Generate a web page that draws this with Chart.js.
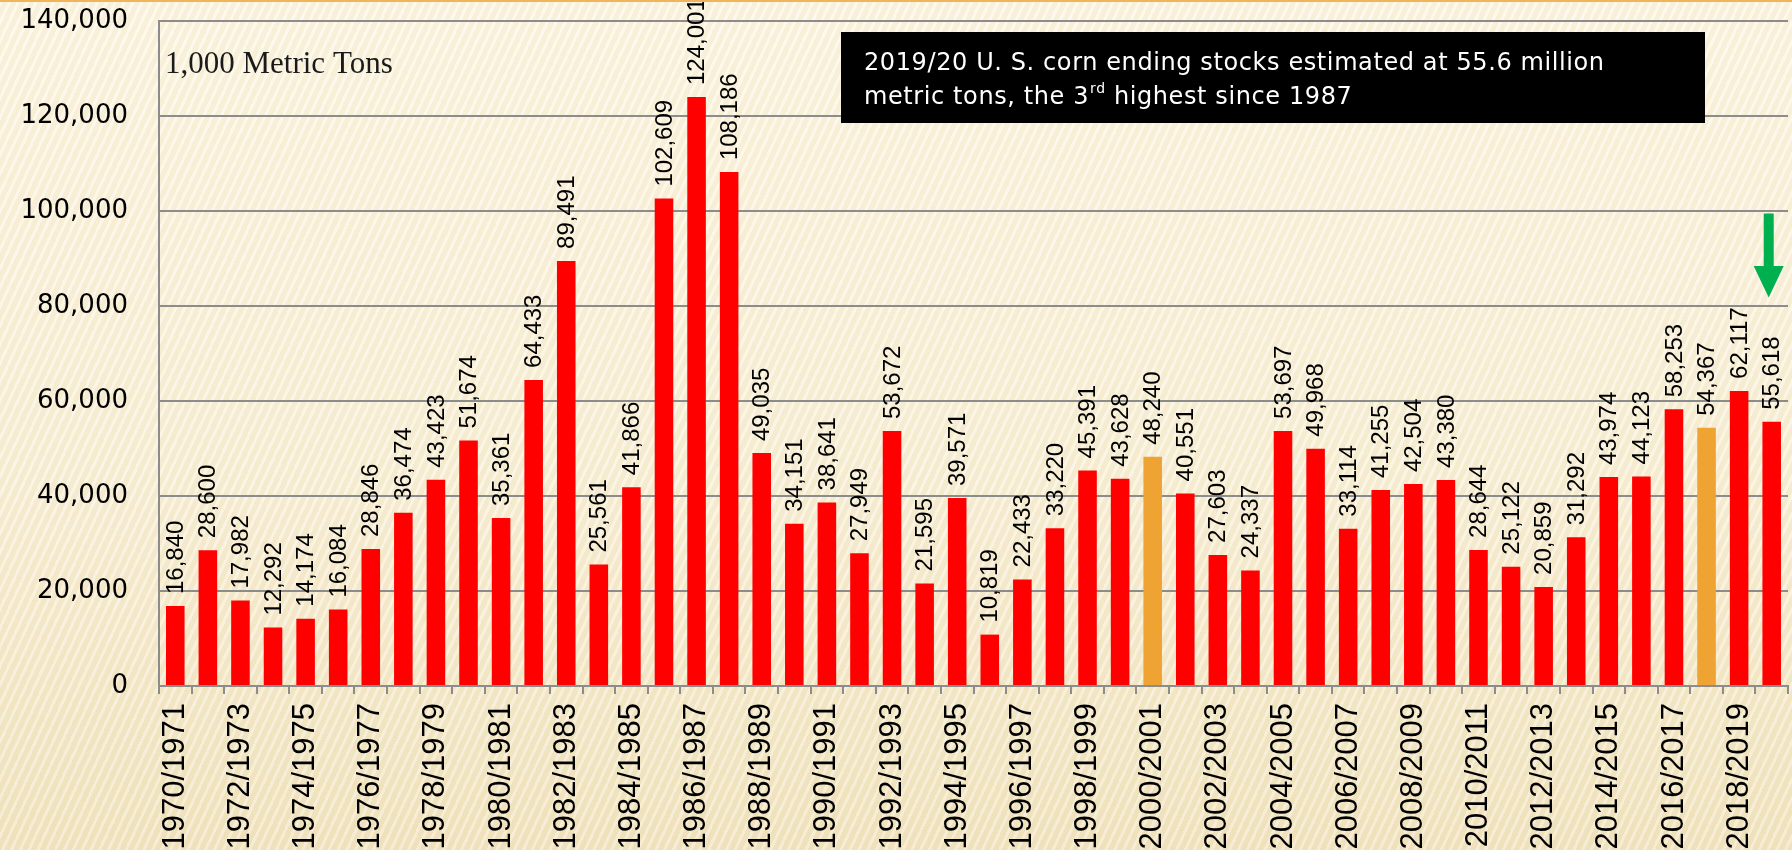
<!DOCTYPE html>
<html>
<head>
<meta charset="utf-8">
<title>U.S. corn ending stocks</title>
<script src="https://cdn.jsdelivr.net/npm/chart.js@4.4.1/dist/chart.umd.min.js"></script>
<style>
  html, body { margin: 0; padding: 0; }
  body {
    width: 1792px; height: 850px; overflow: hidden;
    background:
      repeating-linear-gradient(115deg, rgba(255,255,255,0.30) 0px, rgba(255,255,255,0.30) 3px, rgba(225,205,150,0.14) 3px, rgba(225,205,150,0.14) 8px),
      linear-gradient(180deg, #fcf6e4 0%, #f9f0d9 55%, #f1e4c0 100%);
  }
  #wrap { position: relative; width: 1792px; height: 850px; }
  #topline { position: absolute; left: 0; top: 0; width: 1792px; height: 2px; background: #f0b45a; }
  canvas { display: block; }
</style>
</head>
<body>
<div id="wrap">
  <div id="topline"></div>
  <canvas id="stocksChart" width="1792" height="850"></canvas>
</div>
<script>
// marketing years
const seasons = [
  '1970/1971', '1971/1972', '1972/1973', '1973/1974', '1974/1975', '1975/1976', '1976/1977', '1977/1978',
  '1978/1979', '1979/1980', '1980/1981', '1981/1982', '1982/1983', '1983/1984', '1984/1985', '1985/1986',
  '1986/1987', '1987/1988', '1988/1989', '1989/1990', '1990/1991', '1991/1992', '1992/1993', '1993/1994',
  '1994/1995', '1995/1996', '1996/1997', '1997/1998', '1998/1999', '1999/2000', '2000/2001', '2001/2002',
  '2002/2003', '2003/2004', '2004/2005', '2005/2006', '2006/2007', '2007/2008', '2008/2009', '2009/2010',
  '2010/2011', '2011/2012', '2012/2013', '2013/2014', '2014/2015', '2015/2016', '2016/2017', '2017/2018',
  '2018/2019', '2019/2020'
];

// ending stocks, 1,000 metric tons
const stocks = [
  16840, 28600, 17982, 12292, 14174, 16084, 28846, 36474,
  43423, 51674, 35361, 64433, 89491, 25561, 41866, 102609,
  124001, 108186, 49035, 34151, 38641, 27949, 53672, 21595,
  39571, 10819, 22433, 33220, 45391, 43628, 48240, 40551,
  27603, 24337, 53697, 49968, 33114, 41255, 42504, 43380,
  28644, 25122, 20859, 31292, 43974, 44123, 58253, 54367,
  62117, 55618
];

// years drawn in orange
const highlighted = ['2000/2001', '2017/2018'];

const yTicks = [0, 20000, 40000, 60000, 80000, 100000, 120000, 140000];

const unitText = '1,000 Metric Tons';
const noteLine1 = '2019/20 U. S. corn ending stocks estimated at 55.6 million';
const noteLine2 = ['metric tons, the 3', 'rd', ' highest since 1987'];

const barColors = seasons.map(s => highlighted.includes(s) ? '#efa333' : '#ff0000');
const gridGray = '#8c8c8c';
const noteFont = '"DejaVu Sans", "Liberation Sans", sans-serif';

const valueLabels = {
  id: 'valueLabels',
  afterDatasetsDraw(chart) {
    const ctx = chart.ctx;
    const meta = chart.getDatasetMeta(0);
    ctx.save();
    ctx.font = '24px "Liberation Sans", Arial, sans-serif';
    ctx.fillStyle = '#000';
    ctx.textAlign = 'left';
    ctx.textBaseline = 'middle';
    meta.data.forEach((bar, i) => {
      ctx.save();
      ctx.translate(bar.x + 1, bar.y - 12);
      ctx.rotate(-Math.PI / 2);
      ctx.fillText(stocks[i].toLocaleString('en-US'), 0, 0);
      ctx.restore();
    });
    ctx.restore();
  }
};

const notes = {
  id: 'notes',
  afterDraw(chart) {
    const ctx = chart.ctx;
    const area = chart.chartArea;
    const x = chart.scales.x, y = chart.scales.y;
    ctx.save();

    // unit label
    ctx.font = '31px "Liberation Serif", "Times New Roman", serif';
    ctx.fillStyle = '#1a1a1a';
    ctx.textAlign = 'left';
    ctx.textBaseline = 'alphabetic';
    ctx.fillText(unitText, area.left + 6, 73);

    // black note box
    ctx.fillStyle = '#000';
    ctx.fillRect(841, 32, 864, 91);
    ctx.fillStyle = '#fff';
    ctx.letterSpacing = '0.6px';
    ctx.font = '24px ' + noteFont;
    ctx.fillText(noteLine1, 864, 70);
    let tx = 864;
    ctx.fillText(noteLine2[0], tx, 104);
    tx += ctx.measureText(noteLine2[0]).width;
    ctx.font = '14px ' + noteFont;
    ctx.fillText(noteLine2[1], tx + 1, 93);
    tx += ctx.measureText(noteLine2[1]).width + 1;
    ctx.font = '24px ' + noteFont;
    ctx.fillText(noteLine2[2], tx, 104);
    ctx.letterSpacing = '0px';

    // green arrow over the last season
    const ax = x.getPixelForValue(seasons.length - 1) - 3;
    const top = y.getPixelForValue(99500);
    const neck = y.getPixelForValue(88400);
    const tip = y.getPixelForValue(81800);
    ctx.fillStyle = '#00b04f';
    ctx.beginPath();
    ctx.moveTo(ax - 5, top);
    ctx.lineTo(ax + 5, top);
    ctx.lineTo(ax + 5, neck);
    ctx.lineTo(ax + 15, neck);
    ctx.lineTo(ax, tip);
    ctx.lineTo(ax - 15, neck);
    ctx.lineTo(ax - 5, neck);
    ctx.closePath();
    ctx.fill();

    ctx.restore();
  }
};

new Chart('stocksChart', {
  type: 'bar',
  data: {
    labels: seasons,
    datasets: [{
      data: stocks,
      backgroundColor: barColors,
      borderWidth: 0,
      categoryPercentage: 1,
      barPercentage: 0.57
    }]
  },
  options: {
    responsive: false,
    animation: false,
    layout: { padding: { top: 21, right: 4, left: 0, bottom: 0 } },
    plugins: {
      legend: { display: false },
      tooltip: { enabled: false }
    },
    scales: {
      x: {
        grid: { offset: true, drawOnChartArea: false, color: gridGray, lineWidth: 2, tickLength: 8 },
        border: { color: gridGray, width: 2 },
        ticks: {
          autoSkip: false,
          minRotation: 90,
          maxRotation: 90,
          padding: 9,
          color: '#000',
          font: { family: '"Liberation Sans", Arial, sans-serif', size: 31 },
          callback: (v, i) => i % 2 === 0 ? seasons[i] : ''
        },
        afterFit: s => { s.height = 164; s.paddingLeft = 0; s.paddingRight = 0; }
      },
      y: {
        min: 0,
        max: 140000,
        afterBuildTicks: s => { s.ticks = yTicks.map(v => ({ value: v })); },
        grid: { color: gridGray, lineWidth: 2, drawTicks: false },
        border: { color: gridGray, width: 2 },
        ticks: {
          padding: 31,
          color: '#000',
          font: { family: '"DejaVu Sans", "Liberation Sans", sans-serif', size: 26 },
          callback: v => v.toLocaleString('en-US')
        },
        afterFit: s => { s.width = 159; s.paddingTop = 0; s.paddingBottom = 0; }
      }
    }
  },
  plugins: [valueLabels, notes]
});
</script>
</body>
</html>
